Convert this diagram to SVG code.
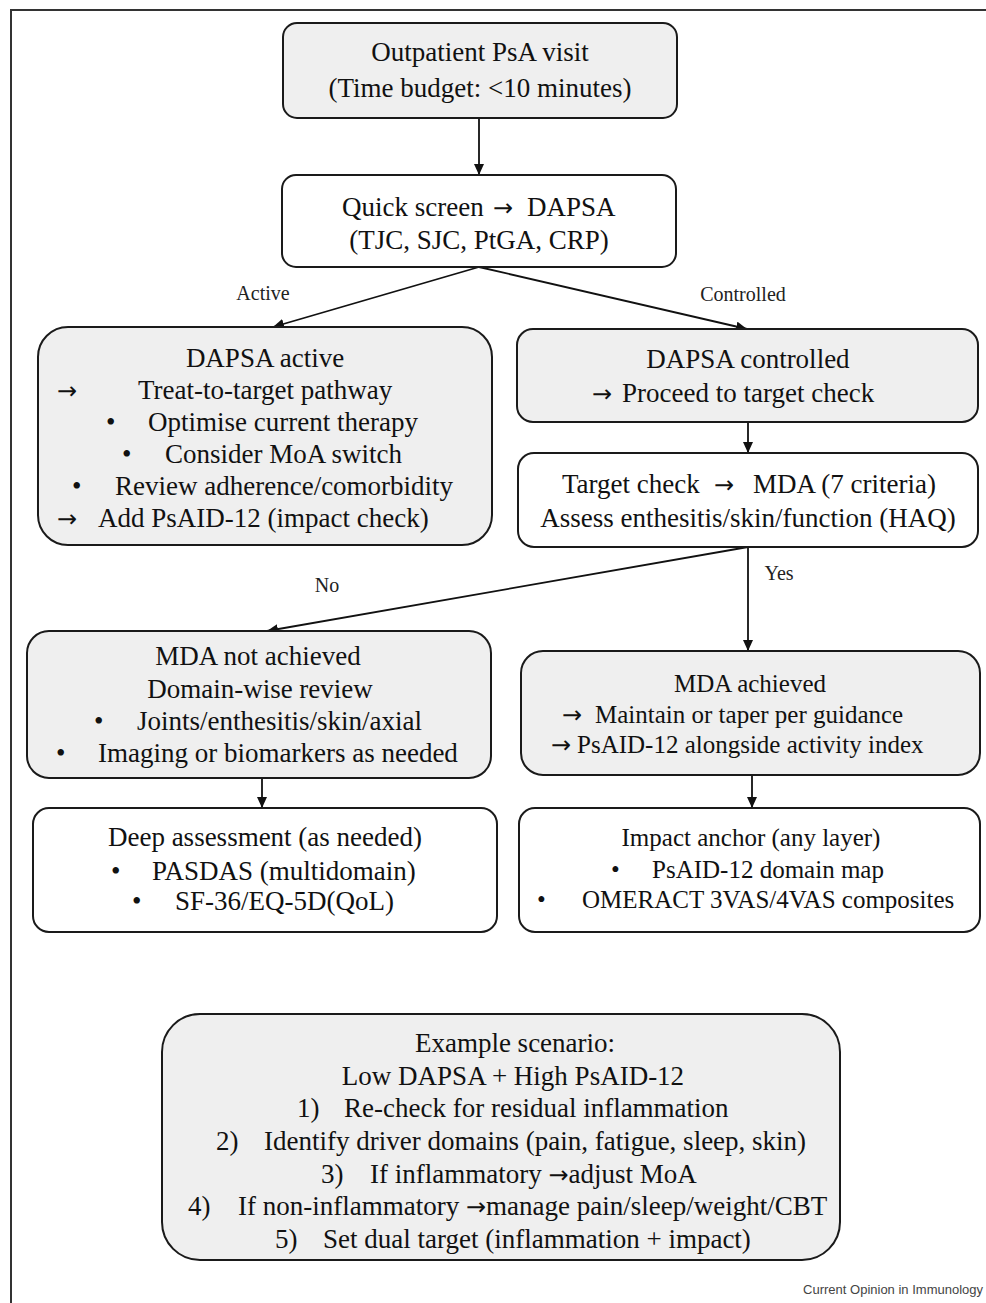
<svg xmlns="http://www.w3.org/2000/svg" width="986" height="1303" viewBox="0 0 986 1303">
<defs>
<style>
.g{fill:#efefef;stroke:#1a1a1a;stroke-width:2}
.w{fill:#ffffff;stroke:#1a1a1a;stroke-width:2}
.t{font-family:"Liberation Serif","Times New Roman",serif;font-size:27px;fill:#111}
.s25{font-size:25px}
.c{text-anchor:middle}
.lbl{font-family:"Liberation Serif","Times New Roman",serif;font-size:20px;fill:#222;text-anchor:middle}
.ar{font-family:"DejaVu Sans",sans-serif;font-size:24px}
.con{stroke:#111;stroke-width:1.8;fill:none;marker-end:url(#ah)}
.foot{font-family:"Liberation Sans",Arial,sans-serif;font-size:13px;fill:#444;text-anchor:end}
</style>
<marker id="ah" markerUnits="userSpaceOnUse" markerWidth="11" markerHeight="10" refX="11" refY="5" orient="auto"><path d="M0,0 L11,5 L0,10 z" fill="#111"/></marker>
</defs>
<rect width="986" height="1303" fill="#fff"/>
<path d="M11,1303 V10 H986" fill="none" stroke="#333" stroke-width="2"/>

<g id="connectors">
<line class="con" x1="479" y1="118" x2="479" y2="175"/>
<line class="con" x1="479" y1="267" x2="273" y2="327"/>
<line class="con" x1="479" y1="267" x2="747" y2="329"/>
<line class="con" x1="748" y1="422" x2="748" y2="453"/>
<line class="con" x1="748" y1="547" x2="267" y2="631"/>
<line class="con" x1="748" y1="547" x2="748" y2="651"/>
<line class="con" x1="262" y1="778" x2="262" y2="808"/>
<line class="con" x1="752" y1="775" x2="752" y2="808"/>
<text class="lbl" x="263" y="300">Active</text>
<text class="lbl" x="743" y="301">Controlled</text>
<text class="lbl" x="327" y="592">No</text>
<text class="lbl" x="779" y="580">Yes</text>
</g>

<g id="visit">
<rect class="g" x="283" y="23" width="394" height="95" rx="14"/>
<text class="t c" x="480" y="61">Outpatient PsA visit</text>
<text class="t c" x="480" y="97">(Time budget: &lt;10 minutes)</text>
</g>

<g id="quick">
<rect class="w" x="282" y="175" width="394" height="92" rx="14"/>
<text class="t" y="216"><tspan x="342">Quick screen</tspan><tspan class="ar" x="493">→</tspan><tspan x="527">DAPSA</tspan></text>
<text class="t c" x="479" y="249">(TJC, SJC, PtGA, CRP)</text>
</g>

<g id="active">
<rect class="g" x="38" y="327" width="454" height="218" rx="30"/>
<text class="t c" x="265" y="367">DAPSA active</text>
<text class="t" y="399"><tspan class="ar" x="57">→</tspan><tspan x="138">Treat-to-target pathway</tspan></text>
<text class="t" y="431"><tspan x="106">•</tspan><tspan x="148">Optimise current therapy</tspan></text>
<text class="t" y="463"><tspan x="122">•</tspan><tspan x="165">Consider MoA switch</tspan></text>
<text class="t" y="495"><tspan x="72">•</tspan><tspan x="115">Review adherence/comorbidity</tspan></text>
<text class="t" y="527"><tspan class="ar" x="57">→</tspan><tspan x="98">Add PsAID-12 (impact check)</tspan></text>
</g>

<g id="controlled">
<rect class="g" x="517" y="329" width="461" height="93" rx="16"/>
<text class="t c" x="748" y="368">DAPSA controlled</text>
<text class="t" y="402"><tspan class="ar" x="592">→</tspan><tspan x="622">Proceed to target check</tspan></text>
</g>

<g id="target">
<rect class="w" x="518" y="453" width="460" height="94" rx="16"/>
<text class="t" y="493"><tspan x="562">Target check</tspan><tspan class="ar" x="714">→</tspan><tspan x="753">MDA (7 criteria)</tspan></text>
<text class="t c" x="748" y="527">Assess enthesitis/skin/function (HAQ)</text>
</g>

<g id="not-achieved">
<rect class="g" x="27" y="631" width="464" height="147" rx="22"/>
<text class="t c" x="258" y="665">MDA not achieved</text>
<text class="t c" x="260" y="698">Domain-wise review</text>
<text class="t" y="730"><tspan x="94">•</tspan><tspan x="137">Joints/enthesitis/skin/axial</tspan></text>
<text class="t" y="762"><tspan x="56">•</tspan><tspan x="98">Imaging or biomarkers as needed</tspan></text>
</g>

<g id="achieved">
<rect class="g" x="521" y="651" width="459" height="124" rx="22"/>
<text class="t s25 c" x="750" y="692">MDA achieved</text>
<text class="t s25" y="723"><tspan class="ar" x="562">→</tspan><tspan x="595">Maintain or taper per guidance</tspan></text>
<text class="t s25" y="753"><tspan class="ar" x="551">→</tspan><tspan x="577">PsAID-12 alongside activity index</tspan></text>
</g>

<g id="deep">
<rect class="w" x="33" y="808" width="464" height="124" rx="16"/>
<text class="t c" x="265" y="846">Deep assessment (as needed)</text>
<text class="t" y="880"><tspan x="111">•</tspan><tspan x="152">PASDAS (multidomain)</tspan></text>
<text class="t" y="910"><tspan x="132">•</tspan><tspan x="175">SF-36/EQ-5D(QoL)</tspan></text>
</g>

<g id="impact">
<rect class="w" x="519" y="808" width="461" height="124" rx="16"/>
<text class="t s25 c" x="751" y="846">Impact anchor (any layer)</text>
<text class="t s25" y="878"><tspan x="611">•</tspan><tspan x="652">PsAID-12 domain map</tspan></text>
<text class="t s25" y="908"><tspan x="537">•</tspan><tspan x="582">OMERACT 3VAS/4VAS composites</tspan></text>
</g>

<g id="scenario">
<rect class="g" x="162" y="1014" width="678" height="246" rx="38"/>
<text class="t c" x="515" y="1052">Example scenario:</text>
<text class="t c" x="513" y="1085">Low DAPSA + High PsAID-12</text>
<text class="t" y="1117"><tspan x="297">1)</tspan><tspan x="344">Re-check for residual inflammation</tspan></text>
<text class="t" y="1150"><tspan x="216">2)</tspan><tspan x="264">Identify driver domains (pain, fatigue, sleep, skin)</tspan></text>
<text class="t" y="1183"><tspan x="321">3)</tspan><tspan x="370">If inflammatory </tspan><tspan class="ar">→</tspan><tspan>adjust MoA</tspan></text>
<text class="t" y="1215"><tspan x="188">4)</tspan><tspan x="238">If non-inflammatory </tspan><tspan class="ar">→</tspan><tspan>manage pain/sleep/weight/CBT</tspan></text>
<text class="t" y="1248"><tspan x="275">5)</tspan><tspan x="323">Set dual target (inflammation + impact)</tspan></text>
</g>

<text class="foot" x="983" y="1294">Current Opinion in Immunology</text>
</svg>
